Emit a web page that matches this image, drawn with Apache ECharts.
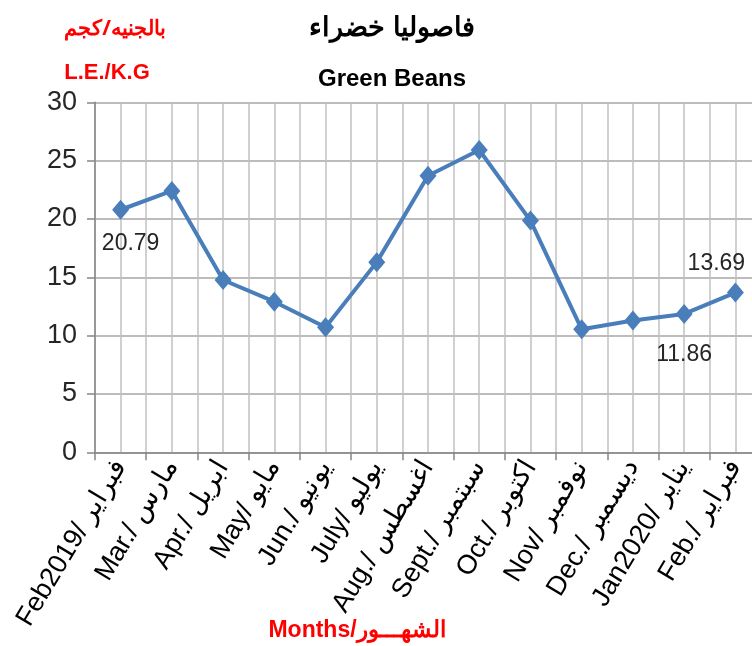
<!DOCTYPE html>
<html><head><meta charset="utf-8">
<script src="https://cdn.jsdelivr.net/npm/echarts@6/dist/echarts.min.js"></script>
<style>html,body{margin:0;padding:0;background:#fff;overflow:hidden}#c{width:761px;height:646px}</style>
</head><body><div id="c"></div>
<script>
const monthsEn = ['Feb2019', 'Mar.', 'Apr.', 'May', 'Jun.', 'July', 'Aug.', 'Sept.', 'Oct.', 'Nov', 'Dec.', 'Jan2020', 'Feb.'];
const monthsAr = ['فبراير', 'مارس', 'ابريل', 'مايو', 'يونيو', 'يوليو', 'اغسطس', 'سبتمبر', 'اكتوبر', 'نوفمبر', 'ديسمبر', 'يناير', 'فبراير'];
const prices = [20.79, 22.4, 14.77, 12.91, 10.72, 16.3, 23.71, 25.91, 19.86, 10.54, 11.3, 11.86, 13.69];
const labelled = {0: 'bl', 11: 'b', 12: 't'};
const yTicks = [0, 30, 5];

const FONT = "'Liberation Sans Narrow', 'Liberation Sans', sans-serif";
const categories = monthsEn.map((e, i) => e + '/ ' + monthsAr[i]);

const lblStyle = {
  bl: {position: 'bottom', distance: 12, offset: [10, 0]},
  b: {position: 'bottom', distance: 19, offset: [0, 0]},
  t: {position: 'top', distance: 7, offset: [-19, 0]}
};
const seriesData = prices.map((v, i) => {
  const k = labelled[i];
  if (!k) return v;
  return {value: v, label: Object.assign({show: true, color: '#262626', fontSize: 23, fontFamily: FONT, formatter: '{c}'}, lblStyle[k])};
});

const chart = echarts.init(document.getElementById('c'), null, {renderer: 'canvas'});
chart.setOption({
  animation: false,
  backgroundColor: '#fff',
  title: [
    {text: 'فاصوليا خضراء', left: 387, top: 10, textAlign: 'center', textStyle: {fontSize: 27, fontWeight: 'bold', color: '#000', fontFamily: "'Noto Sans', sans-serif"}},
    {text: 'Green Beans', left: 387, top: 62, textAlign: 'center', textStyle: {fontSize: 24, fontWeight: 'bold', color: '#000', fontFamily: FONT}},
    {text: 'بالجنيه/كجم', left: 110, top: 14, textAlign: 'center', textStyle: {fontSize: 21, fontWeight: 'bold', color: '#ff0000', fontFamily: "'Noto Sans', sans-serif"}},
    {text: 'L.E./K.G', left: 102, top: 57, textAlign: 'center', textStyle: {fontSize: 22, fontWeight: 'bold', color: '#ff0000', fontFamily: FONT}},
    {text: 'Months/الشهـــور', left: 352, top: 614, textAlign: 'center', textStyle: {fontSize: 23, fontWeight: 'bold', color: '#ff0000', fontFamily: FONT}}
  ],
  grid: {left: 95, top: 102.3, height: 350, right: 0, containLabel: false},
  xAxis: [
    {
      type: 'category', data: categories, boundaryGap: true,
      axisLine: {show: true, lineStyle: {color: '#868686', width: 1.5}},
      axisTick: {show: true, length: 8, lineStyle: {color: '#868686', width: 1.5}},
      splitLine: {show: false},
      axisLabel: {rotate: 59, interval: 0, margin: 10, fontSize: 27, color: '#000', fontFamily: FONT}
    },
    {
      type: 'value', min: -0.5, max: 12.5, interval: 0.5, show: true,
      axisLine: {show: false}, axisTick: {show: false}, axisLabel: {show: false},
      splitLine: {show: true, lineStyle: {color: '#c0c0c0', width: 1.5}}
    }
  ],
  yAxis: {
    type: 'value', min: yTicks[0], max: yTicks[1], interval: yTicks[2],
    axisLine: {show: true, onZero: false, lineStyle: {color: '#868686', width: 1.5}},
    axisTick: {show: true, length: 8, lineStyle: {color: '#868686', width: 1.5}},
    axisLabel: {fontSize: 27, color: '#262626', margin: 18, fontFamily: FONT},
    splitLine: {show: true, lineStyle: {color: '#a6a6a6', width: 1.5}}
  },
  series: [{
    type: 'line', xAxisIndex: 0, data: seriesData,
    symbol: 'diamond', symbolSize: [17, 20],
    lineStyle: {color: '#4a7ebb', width: 4},
    itemStyle: {color: '#4a7ebb'},
    z: 5
  }]
});
</script></body></html>
